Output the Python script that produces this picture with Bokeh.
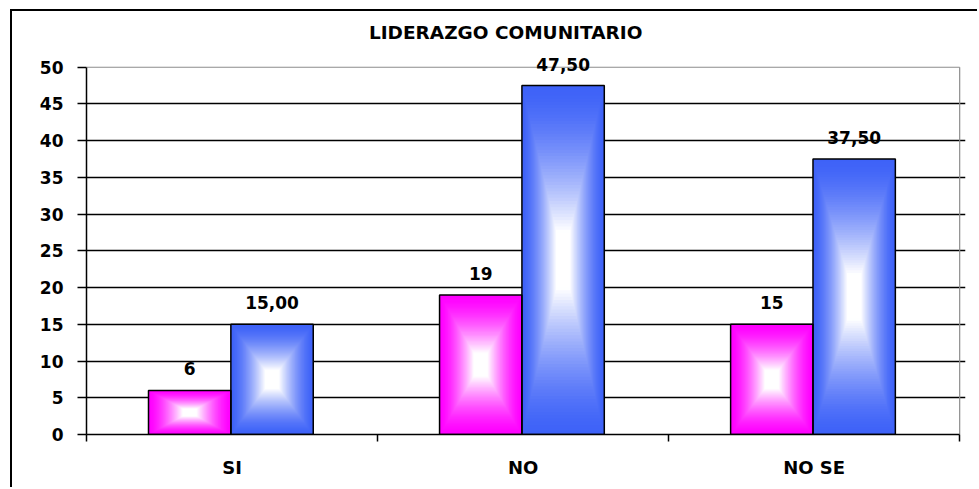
from bokeh.plotting import figure
from bokeh.models import FixedTicker, ColumnDataSource, LabelSet, Label, Range1d
from bokeh.core.properties import value
from bokeh.embed import file_html
from bokeh.resources import INLINE

# ---- data ----
categories = ["SI", "NO", "NO SE"]
frecuencia = [6, 19, 15]
porcentaje = [15.00, 47.50, 37.50]
frec_labels = ["6", "19", "15"]
pct_labels = ["15,00", "47,50", "37,50"]
y_ticks = [0, 5, 10, 15, 20, 25, 30, 35, 40, 45, 50]
title_text = "LIDERAZGO COMUNITARIO"

# ---- styling ----
FONT = "DejaVu Sans"
PINK = (255, 0, 255)
BLUE = (62, 98, 248)
BAR_START = 0.213
BAR_W = 0.283
N_LEVELS = 50
Y_TOP = 56.5          # headroom so title / labels stay inside the frame
X_END = 3.02

ncat = len(categories)
p = figure(width=967, height=478,
           x_range=Range1d(0, X_END), y_range=Range1d(y_ticks[0], Y_TOP),
           output_backend="svg", toolbar_location=None,
           min_border_left=74, min_border_right=14, min_border_top=8, min_border_bottom=55)
p.styles = {"margin-left": "10px", "margin-top": "9px",
            "border-left": "2px solid black", "border-top": "2px solid black"}
p.background_fill_color = "white"
p.border_fill_color = "white"
p.outline_line_color = None

# axes
p.xaxis.ticker = FixedTicker(ticks=[i + 0.5 for i in range(ncat)],
                             minor_ticks=list(range(ncat + 1)))
p.xaxis.major_label_overrides = {i + 0.5: c for i, c in enumerate(categories)}
p.xaxis.bounds = (0, ncat)
p.xaxis.major_tick_out = 0
p.xaxis.major_tick_in = 0
p.xaxis.minor_tick_out = 7
p.xaxis.minor_tick_in = 0
p.xaxis.minor_tick_line_color = "black"
p.xaxis.major_label_standoff = 15
p.xaxis.major_label_text_font_size = "18px"

p.yaxis.ticker = FixedTicker(ticks=y_ticks, minor_ticks=[])
p.yaxis.bounds = (y_ticks[0], y_ticks[-1])
p.yaxis.major_tick_out = 9
p.yaxis.major_tick_in = 0
p.yaxis.major_label_standoff = 14
p.yaxis.major_label_text_font_size = "17px"

for ax in (p.xaxis, p.yaxis):
    ax.axis_line_color = "black"
    ax.axis_line_width = 1.5
    ax.major_tick_line_color = "black"
    ax.major_tick_line_width = 1.5
    ax.minor_tick_line_width = 1.5
    ax.major_label_text_font = FONT
    ax.major_label_text_font_style = "bold"
    ax.major_label_text_color = "black"

p.xgrid.visible = False
p.ygrid.ticker = FixedTicker(ticks=y_ticks[1:-1])
p.ygrid.bounds = (0, ncat)
p.ygrid.grid_line_color = "black"
p.ygrid.grid_line_width = 1.3

# gray plot-area border (top and right)
p.segment(x0=[0, ncat], y0=[y_ticks[-1], 0], x1=[ncat, ncat], y1=[y_ticks[-1], y_ticks[-1]],
          line_color="#8c8c8c", line_width=1.2)


def mix(c, f):
    r = int(round(c[0] + (255 - c[0]) * f))
    g = int(round(c[1] + (255 - c[1]) * f))
    b = int(round(c[2] + (255 - c[2]) * f))
    return "#%02x%02x%02x" % (r, g, b)


# gradient bars built as nested rectangles from each bar's value
gl, gr, gt, gb, gc = [], [], [], [], []
ol, orr, ot = [], [], []
lx, ly, lt = [], [], []
for i in range(ncat):
    for j, (vals, labs, col) in enumerate(((frecuencia, frec_labels, PINK),
                                          (porcentaje, pct_labels, BLUE))):
        v = vals[i]
        left = i + BAR_START + j * BAR_W
        right = left + BAR_W
        cx = (left + right) / 2
        cy = v / 2
        hw = BAR_W / 2
        hh = v / 2
        for k in range(N_LEVELS):
            t = k / (N_LEVELS - 1)
            s = 1 - 0.9 * t
            f = min(1.0, t / 0.92) ** 1.5
            gl.append(cx - hw * s)
            gr.append(cx + hw * s)
            gb.append(cy - hh * s)
            gt.append(cy + hh * s)
            gc.append(mix(col, f))
        ol.append(left)
        orr.append(right)
        ot.append(v)
        lx.append(cx)
        ly.append(v)
        lt.append(labs[i])

grad = ColumnDataSource(dict(left=gl, right=gr, top=gt, bottom=gb, color=gc))
p.quad(left="left", right="right", top="top", bottom="bottom", fill_color="color",
       line_color=None, source=grad)

outl = ColumnDataSource(dict(left=ol, right=orr, top=ot, bottom=[0] * len(ot)))
p.quad(left="left", right="right", top="top", bottom="bottom", fill_color=None,
       line_color="black", line_width=1.5, source=outl)

lab_src = ColumnDataSource(dict(x=lx, y=ly, text=lt))
p.add_layout(LabelSet(x="x", y="y", text="text", source=lab_src, y_offset=15,
                      text_align="center", text_baseline="alphabetic",
                      text_font=value(FONT), text_font_style="bold", text_font_size="17px",
                      text_color="black"))

p.add_layout(Label(x=1.44, y=54.7, text=title_text,
                   text_align="center", text_baseline="alphabetic",
                   text_font=FONT, text_font_style="bold", text_font_size="18.5px",
                   text_color="black"))

open("out.html", "w").write(file_html(p, INLINE))
